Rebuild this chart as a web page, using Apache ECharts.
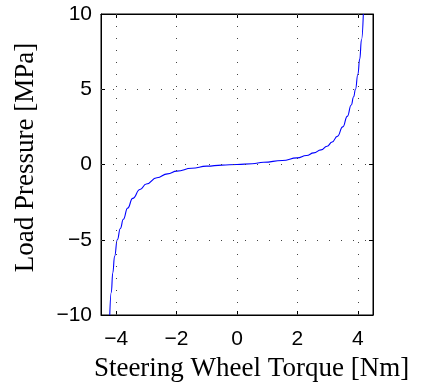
<!DOCTYPE html>
<html>
<head>
<meta charset="utf-8">
<script src="https://cdn.jsdelivr.net/npm/echarts@6/dist/echarts.min.js"></script>
<style>html,body{margin:0;padding:0;background:#fff}#c{width:422px;height:387px}</style>
</head>
<body>
<div id="c"></div>
<script>
var torque   = [-4.21, -4.16, -4.11, -4.05, -3.96, -3.86, -3.76, -3.62, -3.45, -3.21, -3.0, -2.65, -2.3, -1.99, -1.5, -1.0, -0.5, 0, 0.5, 0.88, 1.5, 1.99, 2.3, 2.54, 2.78, 2.98, 3.15, 3.32, 3.5, 3.65, 3.78, 3.86, 3.92, 4.0, 4.06, 4.12, 4.18];
var pressure = [-10, -8.5, -7.2, -6.1, -5.0, -4.25, -3.64, -2.9, -2.25, -1.66, -1.3, -0.88, -0.62, -0.44, -0.25, -0.11, -0.04, 0, 0.05, 0.15, 0.27, 0.44, 0.6, 0.77, 0.97, 1.21, 1.5, 1.87, 2.5, 3.2, 3.95, 4.5, 5.0, 6.0, 7.0, 8.3, 10];
var xTicks = [-4, -2, 0, 2, 4];
var yTicks = [-10, -5, 0, 5, 10];
var xGrid = [-4, -2, 0, 2, 4];
var yGrid = [-5, 0, 5];

var data = torque.map(function (t, i) { return [t, pressure[i]]; });
var minus = function (v) { return String(v).replace('-', '\u2212'); };
var labelFont = { fontFamily: 'Liberation Sans', fontSize: 21, color: '#000' };
var dotted = { color: '#444', width: 1, type: [1, 11] };

var gridLines = xGrid.map(function (v) { return { xAxis: v }; })
  .concat(yGrid.map(function (v) { return { yAxis: v }; }));

var chart = echarts.init(document.getElementById('c'), null, { renderer: 'canvas' });
chart.setOption({
  animation: false,
  backgroundColor: '#fff',
  grid: { left: 101, top: 14, width: 272, height: 302, show: true, borderColor: '#000', borderWidth: 1, backgroundColor: 'transparent' },
  xAxis: [{
    type: 'value', min: -4.5, max: 4.5, position: 'bottom',
    name: 'Steering Wheel Torque [Nm]', nameLocation: 'middle', nameGap: 40,
    nameTextStyle: { fontFamily: 'Liberation Serif', fontSize: 27, color: '#000', padding: [0, 0, 0, 29] },
    axisLine: { show: true, onZero: false, lineStyle: { color: '#000', width: 1 } },
    axisTick: { show: true, inside: true, length: 4, customValues: xTicks, lineStyle: { color: '#000' } },
    axisLabel: Object.assign({ customValues: xTicks, margin: 14, formatter: minus }, labelFont),
    splitLine: { show: false }
  }, {
    type: 'value', min: -4.5, max: 4.5, position: 'top',
    axisLine: { show: true, onZero: false, lineStyle: { color: '#000', width: 1 } },
    axisTick: { show: true, inside: true, length: 4, customValues: xTicks, lineStyle: { color: '#000' } },
    axisLabel: { show: false },
    splitLine: { show: false }
  }],
  yAxis: [{
    type: 'value', min: -10, max: 10, interval: 5, position: 'left',
    name: 'Load Pressure [MPa]', nameLocation: 'middle', nameGap: 62, nameRotate: 90,
    nameTextStyle: { fontFamily: 'Liberation Serif', fontSize: 27, color: '#000', padding: [0, 0, 0, 14] },
    axisLine: { show: true, onZero: false, lineStyle: { color: '#000', width: 1 } },
    axisTick: { show: true, inside: true, length: 4, lineStyle: { color: '#000' } },
    axisLabel: Object.assign({ margin: 9, formatter: minus }, labelFont),
    splitLine: { show: false }
  }, {
    type: 'value', min: -10, max: 10, interval: 5, position: 'right',
    axisLine: { show: true, onZero: false, lineStyle: { color: '#000', width: 1 } },
    axisTick: { show: true, inside: true, length: 4, lineStyle: { color: '#000' } },
    axisLabel: { show: false },
    splitLine: { show: false }
  }],
  series: [{
    type: 'line',
    data: data,
    showSymbol: false,
    smooth: 0.5,
    smoothMonotone: 'x',
    lineStyle: { color: '#0000ff', width: 1.1 },
    markLine: {
      silent: true, symbol: 'none', label: { show: false },
      lineStyle: dotted, animation: false,
      data: gridLines
    }
  }]
});
</script>
</body>
</html>
